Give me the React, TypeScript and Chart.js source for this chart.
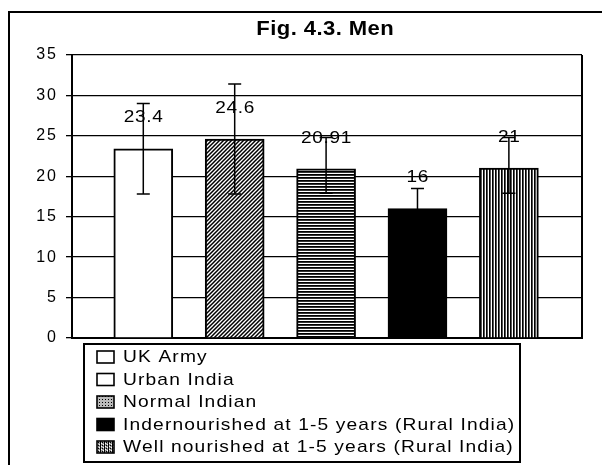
import React, { useEffect, useRef } from "react";
import { Chart, registerables } from "chart.js";

Chart.register(...registerables);

// ---- data ----
const chartTitle = "Fig. 4.3. Men";
const categories = [
  "UK Army",
  "Urban India",
  "Normal Indian",
  "Indernourished at 1-5 years (Rural India)",
  "Well nourished at 1-5 years (Rural India)",
];
const values = [23.4, 24.6, 20.91, 16, 21];
const valueLabels = ["23.4", "24.6", "20.91", "16", "21"];
const errLow = [17.8, 17.8, 17.9, 13.5, 17.9];
const errHigh = [29.0, 31.4, 24.8, 18.5, 24.8];
const yMin = 0;
const yMax = 35;
const yStep = 5;

const FONT = "'Liberation Sans', Arial, sans-serif";

function makeTile(w: number, h: number, draw: (c: CanvasRenderingContext2D) => void) {
  const c = document.createElement("canvas");
  c.width = w;
  c.height = h;
  const x = c.getContext("2d")!;
  x.fillStyle = "#fff";
  x.fillRect(0, 0, w, h);
  draw(x);
  return x.createPattern(c, "repeat")!;
}

function makePatterns() {
  const diag = makeTile(4, 4, (x) => {
    x.strokeStyle = "#000";
    x.lineWidth = 1.5;
    x.beginPath();
    x.moveTo(0, 4); x.lineTo(4, 0);
    x.moveTo(-1, 1); x.lineTo(1, -1);
    x.moveTo(3, 5); x.lineTo(5, 3);
    x.stroke();
  });
  const hlines = makeTile(2, 3, (x) => {
    x.fillStyle = "#000"; x.fillRect(0, 0, 2, 1);
    x.fillStyle = "#333"; x.fillRect(0, 1, 2, 1);
  });
  const vlines = makeTile(3, 2, (x) => {
    x.fillStyle = "#000"; x.fillRect(0, 0, 1, 2);
    x.fillStyle = "#555"; x.fillRect(1, 0, 1, 2);
  });
  const dots = makeTile(3, 3, (x) => {
    x.fillStyle = "#bbb"; x.fillRect(0, 0, 3, 3);
    x.fillStyle = "#000"; x.fillRect(0, 0, 1, 1);
  });
  const checks = makeTile(4, 3, (x) => {
    x.fillStyle = "#999"; x.fillRect(0, 0, 4, 3);
    x.fillStyle = "#000"; x.fillRect(0, 0, 1, 3); x.fillRect(2, 1, 1, 1);
    x.fillStyle = "#fff"; x.fillRect(1, 2, 1, 1); x.fillRect(3, 0, 1, 1);
  });
  return { diag, hlines, vlines, dots, checks };
}

function drawText(
  ctx: CanvasRenderingContext2D,
  text: string,
  x: number,
  y: number,
  font: string,
  align: CanvasTextAlign,
  spacing: number,
  stretch: number
) {
  ctx.save();
  (ctx as any).letterSpacing = spacing + "px";
  ctx.font = font;
  ctx.fillStyle = "#000";
  ctx.textBaseline = "middle";
  const w = (ctx.measureText(text).width - spacing) * stretch;
  let sx = x;
  if (align === "center") sx = x - w / 2;
  else if (align === "right") sx = x - w;
  ctx.textAlign = "left";
  ctx.translate(sx, y);
  ctx.scale(stretch, 1);
  ctx.fillText(text, 0, 0);
  ctx.restore();
}

export default function App() {
  const ref = useRef<HTMLCanvasElement | null>(null);

  useEffect(() => {
    const canvas = ref.current!;
    const p = makePatterns();
    const barFills: any[] = ["#ffffff", p.diag, p.hlines, "#000000", p.vlines];
    const legendFills: any[] = ["#ffffff", "#ffffff", p.dots, "#000000", p.checks];

    const framePlugin = {
      id: "framePlugin",
      beforeDraw(chart: any) {
        const ctx = chart.ctx as CanvasRenderingContext2D;
        ctx.save();
        ctx.fillStyle = "#fff";
        ctx.fillRect(0, 0, chart.width, chart.height);
        ctx.strokeStyle = "#000";
        ctx.lineWidth = 2;
        ctx.beginPath();
        ctx.moveTo(9, chart.height + 2);
        ctx.lineTo(9, 12);
        ctx.lineTo(chart.width + 2, 12);
        ctx.stroke();
        ctx.restore();
        (ctx as any).letterSpacing = "2px";
      },
      afterDatasetsDraw(chart: any) {
        const ctx = chart.ctx as CanvasRenderingContext2D;
        const { chartArea, scales } = chart;
        const xs = scales.x;
        const ys = scales.y;
        ctx.save();
        (ctx as any).letterSpacing = "0px";
        // right border of plot
        ctx.strokeStyle = "#000";
        ctx.lineWidth = 2;
        ctx.beginPath();
        ctx.moveTo(chartArea.right, chartArea.top);
        ctx.lineTo(chartArea.right, chartArea.bottom);
        ctx.stroke();
        // error bars
        ctx.lineWidth = 1.5;
        ctx.strokeStyle = "#000";
        values.forEach((_, i) => {
          const cx = xs.getPixelForValue(i);
          const yl = ys.getPixelForValue(errLow[i]);
          const yh = ys.getPixelForValue(errHigh[i]);
          ctx.beginPath();
          ctx.moveTo(cx, yl);
          ctx.lineTo(cx, yh);
          ctx.moveTo(cx - 6.5, yl);
          ctx.lineTo(cx + 6.5, yl);
          ctx.moveTo(cx - 6.5, yh);
          ctx.lineTo(cx + 6.5, yh);
          ctx.stroke();
        });
        ctx.restore();
        // value labels
        values.forEach((v, i) => {
          const cx = xs.getPixelForValue(i);
          const y = ys.getPixelForValue(v) - 31;
          drawText(ctx, valueLabels[i], cx, y, `17px ${FONT}`, "center", 0.6, 1.12);
        });
      },
      afterDraw(chart: any) {
        const ctx = chart.ctx as CanvasRenderingContext2D;
        const { chartArea } = chart;
        (ctx as any).letterSpacing = "0px";
        // title
        drawText(ctx, chartTitle, (chartArea.left + chartArea.right) / 2 - 2, 29, `bold 21px ${FONT}`, "center", 0.4, 1.05);
        // legend box
        ctx.save();
        ctx.strokeStyle = "#000";
        ctx.lineWidth = 2;
        ctx.strokeRect(84, 344, 436, 118);
        ctx.restore();
        const rows = [357, 379.5, 402, 424.5, 447];
        categories.forEach((name, i) => {
          const y = rows[i];
          ctx.save();
          ctx.fillStyle = legendFills[i];
          ctx.fillRect(97, y - 6, 17, 12);
          ctx.strokeStyle = "#000";
          ctx.lineWidth = 1.6;
          ctx.strokeRect(97, y - 6, 17, 12);
          ctx.restore();
          drawText(ctx, name, 123, y + 0.5, `17px ${FONT}`, "left", 1.0, 1.13);
        });
      },
    };

    const chart = new Chart(canvas, {
      type: "bar",
      data: {
        datasets: [
          {
            label: "Men",
            data: values.map((v, i) => ({ x: i, y: v })),
            backgroundColor: barFills,
            borderColor: "#000",
            borderWidth: 2,
            barThickness: 59,
          } as any,
        ],
      },
      options: {
        responsive: false,
        animation: false,
        devicePixelRatio: 1,
        layout: { padding: { left: 0, top: 55, right: 20, bottom: 127 } },
        plugins: {
          legend: { display: false },
          title: { display: false },
          tooltip: { enabled: false },
        },
        scales: {
          x: {
            type: "linear",
            offset: false,
            min: -0.78,
            max: 4.8,
            afterBuildTicks: (s: any) => {
              s.ticks = categories.map((_, i) => ({ value: i }));
            },
            afterFit: (s: any) => {
              s.height = 0;
            },
            ticks: { display: false },
            grid: { display: false, drawTicks: false },
            border: { display: true, color: "#000", width: 2 },
          },
          y: {
            min: yMin,
            max: yMax,
            ticks: {
              stepSize: yStep,
              color: "#000",
              padding: 8,
              font: { family: FONT, size: 16 },
            },
            afterFit: (s: any) => {
              s.width = 72;
            },
            grid: {
              color: "#000",
              lineWidth: 1.3,
              tickLength: 6,
              tickColor: "#000",
              drawTicks: true,
            },
            border: { display: true, color: "#000", width: 2 },
          },
        },
      } as any,
      plugins: [framePlugin],
    });

    return () => chart.destroy();
  }, []);

  return (
    <div style={{ position: "absolute", left: 0, top: 0, width: 602, height: 465, background: "#fff" }}>
      <canvas ref={ref} width={602} height={465} style={{ display: "block" }} />
    </div>
  );
}
